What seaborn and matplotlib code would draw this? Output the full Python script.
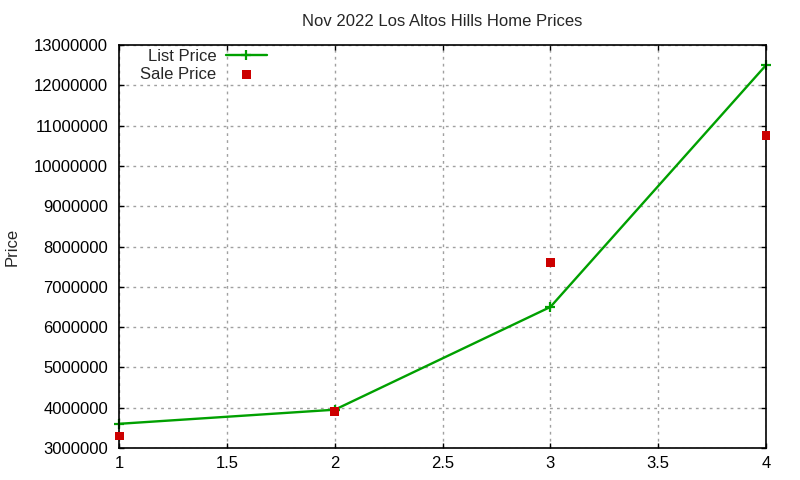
import numpy as np
import pandas as pd
import seaborn as sns
import matplotlib
matplotlib.use("Agg")
import matplotlib.pyplot as plt

# data
bedrooms = [1, 2, 3, 4]
list_price = [3600000, 3950000, 6500000, 12500000]
sale_price = [3300000, 3900000, 7600000, 10750000]
yticks = list(range(3000000, 13000001, 1000000))
xticks = [1, 1.5, 2, 2.5, 3, 3.5, 4]

df = pd.DataFrame({'x': bedrooms, 'List Price': list_price, 'Sale Price': sale_price})

sns.set_style("ticks")
plt.rcParams['font.family'] = ['Liberation Sans', 'DejaVu Sans']
plt.rcParams['font.size'] = 12

fig = plt.figure(figsize=(8, 4.8), dpi=100)
ax = fig.add_axes([0.149, 0.0667, 0.8085, 0.8395])

green = '#00a000'
sns.lineplot(data=df, x='x', y='List Price', ax=ax, color=green, linewidth=1.7,
             marker='+', markersize=7, markeredgewidth=1.6, markeredgecolor=green,
             label='List Price', clip_on=False)
sns.scatterplot(data=df, x='x', y='Sale Price', ax=ax, color='#cc0000', marker='s', s=40,
                edgecolor='none', label='Sale Price', clip_on=False, zorder=3)

ax.set_xlim(1, 4)
ax.set_ylim(3000000, 13000000)
ax.set_xticks(xticks)
ax.set_xticklabels([f'{t:g}' for t in xticks])
ax.set_yticks(yticks)
ax.set_yticklabels([str(v) for v in yticks])
ax.grid(True, color='#a0a0a0', linestyle=(0, (2, 3)), linewidth=1)
ax.tick_params(direction='in', top=True, right=True, length=3.5, width=1, labelsize=12, colors='black')
ax.tick_params(axis='x', pad=6)
ax.tick_params(axis='y', pad=8)
for sp in ax.spines.values():
    sp.set_visible(True)
    sp.set_linewidth(1.2)
    sp.set_color('black')

ax.set_xlabel('')
ax.set_ylabel('Price', fontsize=12, labelpad=10)
ax.set_title('Nov 2022 Los Altos Hills Home Prices', fontsize=12, pad=13.5)

leg = ax.legend(loc='upper right', bbox_to_anchor=(0.229, 0.99), frameon=False, markerfirst=False,
                handlelength=2.5, borderaxespad=0, borderpad=0, labelspacing=0.15, fontsize=12,
                handletextpad=0.55)
for t in leg.get_texts():
    t.set_ha('right')

fig.savefig('out.png', dpi=100)
